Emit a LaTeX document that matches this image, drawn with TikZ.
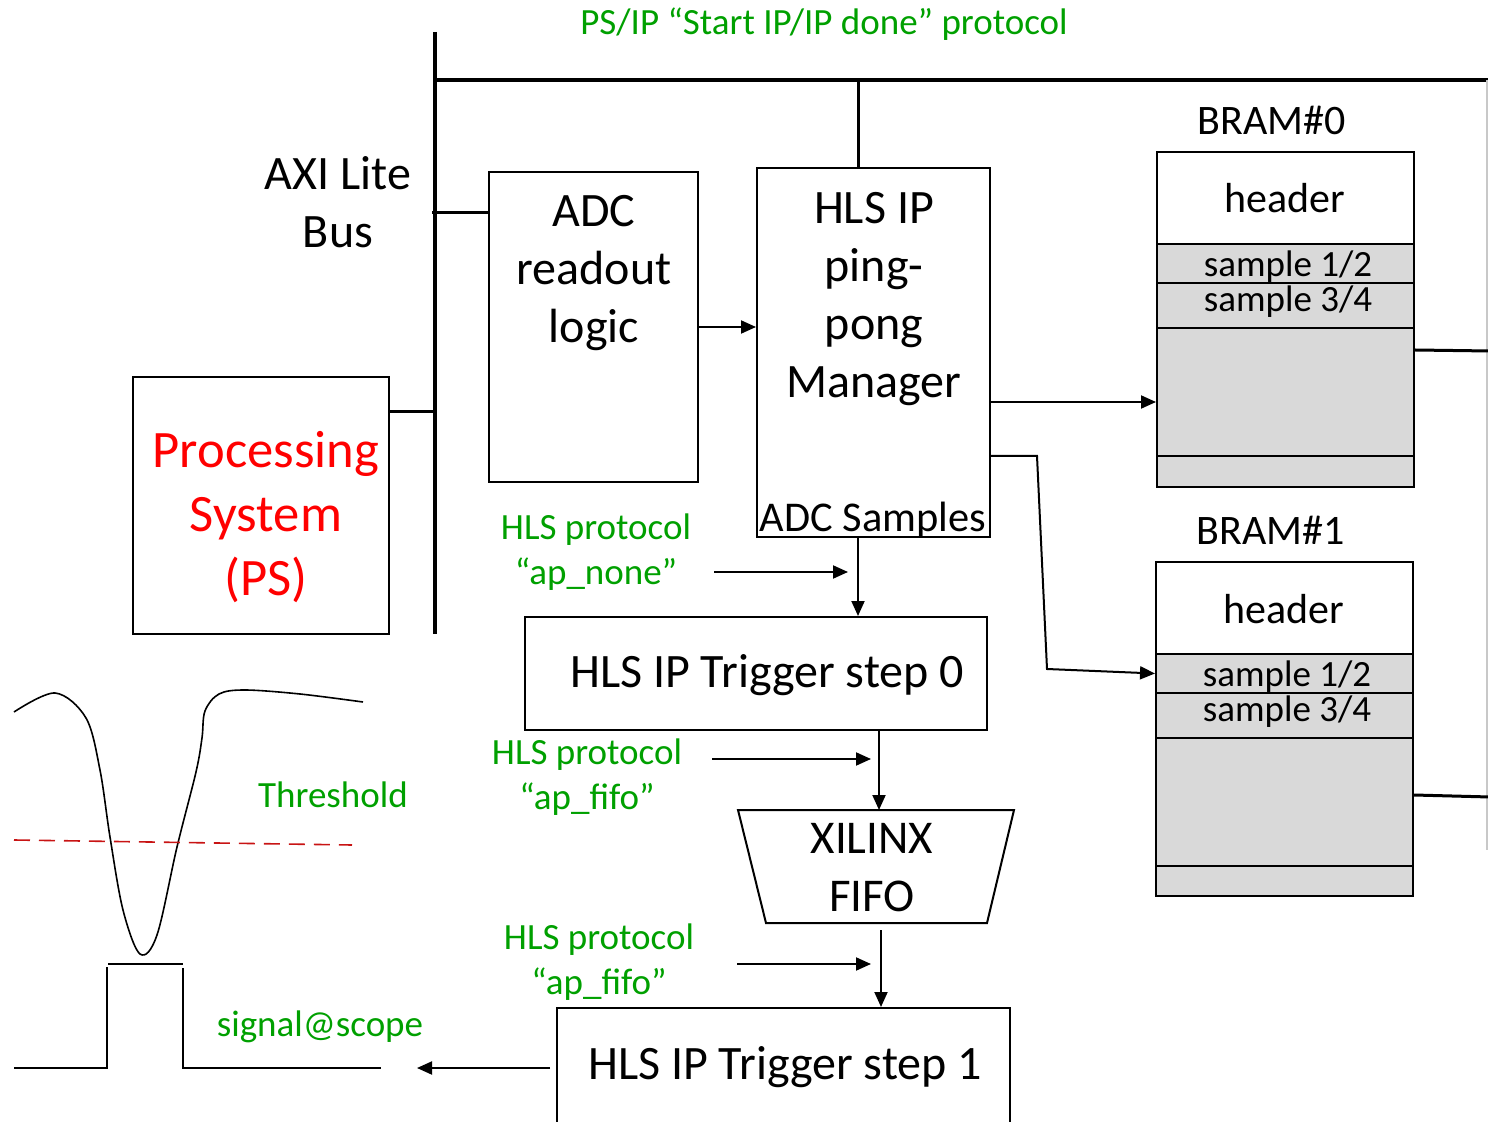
\documentclass[tikz,border=0pt]{standalone}
\usepackage{fontspec}
\setmainfont{Carlito}
\usetikzlibrary{arrows.meta}
\definecolor{grn}{RGB}{0,160,0}
\definecolor{dred}{RGB}{200,20,20}
\definecolor{bgray}{RGB}{217,217,217}
\definecolor{lgray}{RGB}{200,200,200}
\begin{document}
\begin{tikzpicture}[x=0.5pt,y=-0.5pt,
  box/.style={draw, line width=1pt, inner sep=0pt},
  gbox/.style={box, fill=bgray},
  txt/.style={inner sep=0pt, align=center},
  arr/.style={-{Triangle[length=7.5pt,width=6.5pt]}, line width=1pt},
  bus/.style={line width=2pt},
  stub/.style={line width=1.5pt},
  fbig/.style={font=\fontsize{24}{29}\selectfont},
  fps/.style={font=\fontsize{26.3}{32}\selectfont, text=red},
  ftrig/.style={font=\fontsize{24}{28}\selectfont},
  fbram/.style={font=\fontsize{21}{25}\selectfont},
  fsamp/.style={font=\fontsize{18.5}{21}\selectfont},
  fgrn/.style={font=\fontsize{18.5}{22.5}\selectfont, text=grn},
  wave/.style={line width=0.8pt},
]
\useasboundingbox (0,0) rectangle (1488,1122);

% bus
\coordinate (busT) at (435,32);
\coordinate (busB) at (435,634);
\coordinate (busC) at (435,80);
\coordinate (busR) at (1490,80);
\coordinate (tb) at (858,80);
\draw[bus] (busT) -- (busB);
\draw[bus] (busC) -- (busR);
\draw[lgray, line width=0.6pt] (1487,80) -- (1487,850);

% top label
\node[txt, fgrn] (toplbl) at (824,24) {PS/IP “Start IP/IP done” protocol};

% AXI
\node[txt, fbig] (axi) at (338,202) {AXI Lite\\Bus};

% PS box
\node[box, minimum width=128pt, minimum height=128.5pt] (ps) at (261,505.5) {};
\node[txt, fps] (pstxt) at (266,517) {Processing\\System\\(PS)};
\draw[stub] (ps.east |- 0,412) -- (busB |- 0,412);

% ADC box
\node[box, minimum width=104.5pt, minimum height=155pt] (adc) at (593.5,327) {};
\node[txt, fbig] (adctxt) at (594,273) {ADC\\readout\\logic};
\draw[stub] (432,213) -- (adc.west |- 0,213);

% HLS IP box
\node[box, minimum width=116.5pt, minimum height=184.5pt] (hls) at (873.5,352.5) {};
\node[txt, fbig] (hlstxt) at (874,299) {HLS IP\\ping-\\pong\\Manager};
\node[txt, fbram, font=\fontsize{21.2}{25}\selectfont] (adcs) at (873,520) {ADC Samples};
\draw[stub] (tb) -- (tb |- hls.north);
\draw[arr] (adc.east) -- (adc.east -| hls.west);

% BRAM0
\node[txt, fbram] (bram0) at (1272,120) {BRAM\#0};
\node[box, minimum width=128.5pt, minimum height=46pt] (b0h) at (1285.5,198) {};
\node[gbox, minimum width=128.5pt, minimum height=19.5pt] (b0s1) at (1285.5,263.5) {};
\node[gbox, minimum width=128.5pt, minimum height=22.5pt] (b0s2) at (1285.5,305.5) {};
\node[gbox, minimum width=128.5pt, minimum height=64pt] (b0big) at (1285.5,392) {};
\node[gbox, minimum width=128.5pt, minimum height=15.5pt] (b0bot) at (1285.5,471.5) {};
\node[txt, fbram] (b0ht) at (1285,198) {header};
\node[txt, fsamp] (b0t1) at (1288,267) {sample 1/2};
\node[txt, fsamp] (b0t2) at (1288,302) {sample 3/4};
\draw[stub] (b0big.east |- 0,350) -- (1490,351);

% BRAM1
\node[txt, fbram] (bram1) at (1271,530) {BRAM\#1};
\node[box, minimum width=128.5pt, minimum height=46pt] (b1h) at (1284.5,608) {};
\node[gbox, minimum width=128.5pt, minimum height=19.5pt] (b1s1) at (1284.5,673.5) {};
\node[gbox, minimum width=128.5pt, minimum height=22.5pt] (b1s2) at (1284.5,715.5) {};
\node[gbox, minimum width=128.5pt, minimum height=64pt] (b1big) at (1284.5,802) {};
\node[gbox, minimum width=128.5pt, minimum height=15pt] (b1bot) at (1284.5,881) {};
\node[txt, fbram] (b1ht) at (1284,609) {header};
\node[txt, fsamp] (b1t1) at (1287,677) {sample 1/2};
\node[txt, fsamp] (b1t2) at (1287,712) {sample 3/4};
\draw[stub] (b1big.east |- 0,795) -- (1490,797);

% HLS -> BRAMs
\draw[arr] (hls.east |- 0,402) -- (b0big.west |- 0,402);
\coordinate (k1) at (1037,456);
\coordinate (k2) at (1047,669);
\draw[arr] (hls.east |- k1) -- (k1) -- (k2) -- (b1s1.west);

% Trigger step 0
\node[box, minimum width=231pt, minimum height=56.5pt] (trig0) at (756,673.5) {};
\node[txt, ftrig] (trig0t) at (767,675) {HLS IP Trigger step 0};
\draw[arr] (tb |- hls.south) -- (tb |- trig0.north);

% FIFO
\coordinate (ftl) at (738,810);
\coordinate (ftr) at (1014,810);
\coordinate (fbr) at (987,923);
\coordinate (fbl) at (766,923);
\draw[line width=1pt, line join=miter] (ftl) -- (ftr) -- (fbr) -- (fbl) -- cycle;
\node[txt, font=\fontsize{23.5}{29}\selectfont] (fifo) at (872,868) {XILINX\\FIFO};
\coordinate (fin) at (879,810);
\coordinate (fout) at (881,923);
\draw[arr] (fin |- trig0.south) -- (fin);

% Trigger step 1
\node[box, minimum width=226.5pt, minimum height=58pt] (trig1) at (783.5,1066) {};
\node[txt, ftrig] (trig1t) at (785,1067) {HLS IP Trigger step 1};
\draw[arr, shorten <=3.5pt] (fout) -- (fout |- trig1.north);

% protocol labels and indicator arrows
\node[txt, fgrn] (p1) at (596,552) {HLS protocol\\“ap\_none”};
\node[txt, fgrn] (p2) at (587,777) {HLS protocol\\“ap\_fifo”};
\node[txt, fgrn] (p3) at (599,962) {HLS protocol\\“ap\_fifo”};
\coordinate (h1a) at (714,572); \coordinate (h1b) at (848,572);
\coordinate (h2a) at (712,759); \coordinate (h2b) at (871,759);
\coordinate (h3a) at (737,964); \coordinate (h3b) at (871,964);
\draw[arr] (h1a) -- (h1b);
\draw[arr] (h2a) -- (h2b);
\draw[arr] (h3a) -- (h3b);

% output to scope
\coordinate (sc) at (417,1068);
\draw[arr, shorten <=3pt] (trig1.west |- sc) -- (sc);

% waveform
\node[txt, fgrn] (thr) at (333,795) {Threshold};
\node[txt, fgrn] (sig) at (320,1027) {signal@scope};
\draw[wave] plot[smooth, tension=0.55] coordinates {(14,712) (55,693) (86,718) (100,770) (110,837) (123,910) (140,954) (157,935) (177,847) (196,772) (202,738) (205,711) (219,694) (245,690) (300,694) (363,702)};
\draw[dred, line width=0.8pt, dash pattern=on 8pt off 4.5pt] (14,840) -- (352,845);
\draw[wave] (14,1068) -- (107,1068) -- (107,967);
\draw[wave] (108,964) -- (183,964);
\draw[wave] (183,968) -- (183,1068) -- (381,1068);
\end{tikzpicture}
\end{document}
